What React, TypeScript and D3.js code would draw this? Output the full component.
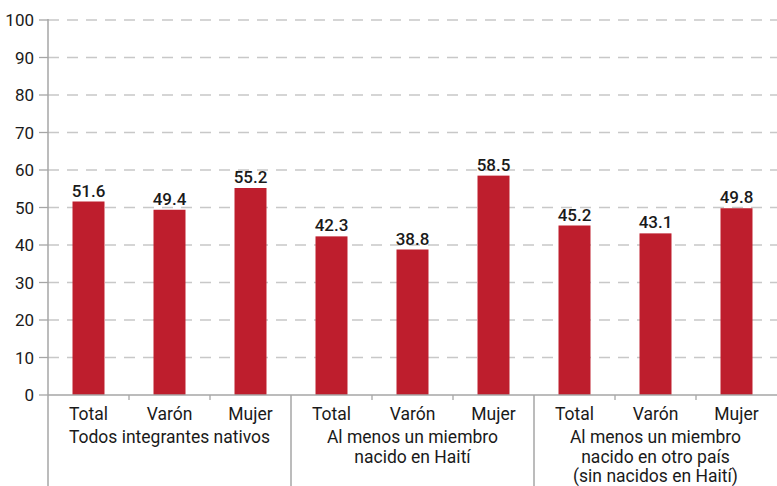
import React from "react";
import * as d3 from "d3";

const groups = [
  ["Todos integrantes nativos"],
  ["Al menos un miembro", "nacido en Haití"],
  ["Al menos un miembro", "nacido en otro país", "(sin nacidos en Haití)"],
];
const subCategories = ["Total", "Varón", "Mujer"];
const values = [51.6, 49.4, 55.2, 42.3, 38.8, 58.5, 45.2, 43.1, 49.8];
const yTicks = [0, 10, 20, 30, 40, 50, 60, 70, 80, 90, 100];

const W = 777;
const H = 486;
const left = 48;
const right = 777;
const top = 20;
const bottom = 395;
const FONT = "Roboto, sans-serif";
const RED = "#be1e2d";
const AXIS = "#a6a6a6";
const GRID = "#c8c8c8";
const TEXT = "#1a1a1a";

export default function App() {
  const items = values.map((v, i) => ({
    key: i,
    value: v,
    sub: subCategories[i % 3],
    group: Math.floor(i / 3),
  }));
  const x = d3
    .scaleBand<number>()
    .domain(items.map((d) => d.key))
    .range([left, right])
    .paddingInner(0.605)
    .paddingOuter(0.3025);
  const y = d3.scaleLinear().domain([0, 100]).range([bottom, top]);
  const step = x.step();
  const groupX = (g: number) => left + g * 3 * step;

  return (
    <svg
      width={W}
      height={H}
      style={{ position: "absolute", left: 0, top: 0, background: "#fff" }}
      fontFamily={FONT}
    >
      {yTicks.map((t) => (
        <g key={t}>
          {t > 0 && (
            <line
              x1={left}
              x2={right}
              y1={y(t)}
              y2={y(t)}
              stroke={GRID}
              strokeWidth={1.5}
              strokeDasharray="11 8"
            />
          )}
          <line x1={39} x2={left} y1={y(t)} y2={y(t)} stroke={AXIS} strokeWidth={1.3} />
          <text
            x={34}
            y={y(t)}
            dy="0.36em"
            textAnchor="end"
            fontSize={17}
            fill={TEXT}
          >
            {t}
          </text>
        </g>
      ))}
      {items.map((d) => (
        <g key={d.key}>
          <rect
            x={x(d.key)}
            y={y(d.value)}
            width={x.bandwidth()}
            height={y(0) - y(d.value)}
            fill={RED}
          />
          <text
            x={(x(d.key) as number) + x.bandwidth() / 2}
            y={y(d.value) - 5}
            textAnchor="middle"
            fontSize={17}
            fontWeight={500}
            fill={TEXT}
          >
            {d.value.toFixed(1)}
          </text>
          <text
            x={(x(d.key) as number) + x.bandwidth() / 2}
            y={420}
            textAnchor="middle"
            fontSize={17.5}
            fill={TEXT}
          >
            {d.sub}
          </text>
          {d.key % 3 !== 0 && (
            <line
              x1={left + d.key * step}
              x2={left + d.key * step}
              y1={bottom}
              y2={bottom + 5}
              stroke={AXIS}
              strokeWidth={1.3}
            />
          )}
        </g>
      ))}
      <line x1={left} x2={right} y1={bottom} y2={bottom} stroke={AXIS} strokeWidth={1.5} />
      <line x1={left} x2={left} y1={top - 1} y2={H} stroke={AXIS} strokeWidth={1.5} />
      {groups.map((lines, g) => (
        <g key={g}>
          {g > 0 && (
            <line
              x1={groupX(g)}
              x2={groupX(g)}
              y1={bottom}
              y2={H}
              stroke={AXIS}
              strokeWidth={1.5}
            />
          )}
          {lines.map((l, j) => (
            <text
              key={j}
              x={groupX(g) + (3 * step) / 2}
              y={443 + j * 19.5}
              textAnchor="middle"
              fontSize={17.5}
              fill={TEXT}
            >
              {l}
            </text>
          ))}
        </g>
      ))}
    </svg>
  );
}
